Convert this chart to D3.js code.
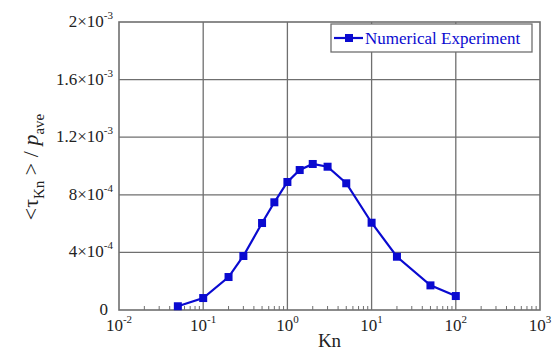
<!DOCTYPE html>
<html>
<head>
<meta charset="utf-8">
<script src="https://cdn.jsdelivr.net/npm/d3@7"></script>
<style>
  body { margin: 0; background: #fff; }
</style>
</head>
<body>
<div id="chart"></div>
<script>
// data
var knValues = [0.05, 0.1, 0.2, 0.3, 0.5, 0.7, 1, 1.4, 2, 3, 5, 10, 20, 50, 100];
var tauValues = [2.6e-5, 8.3e-5, 2.29e-4, 3.75e-4, 6.04e-4, 7.48e-4, 8.89e-4, 9.72e-4,
                 1.014e-3, 9.95e-4, 8.8e-4, 6.06e-4, 3.7e-4, 1.71e-4, 9.7e-5];
var xTicks = [1e-2, 1e-1, 1, 10, 100, 1000];
var xTickExp = ["-2", "-1", "0", "1", "2", "3"];
var yTicks = [0, 4e-4, 8e-4, 1.2e-3, 1.6e-3, 2e-3];
var yTickMant = ["0", "4\u00d710", "8\u00d710", "1.2\u00d710", "1.6\u00d710", "2\u00d710"];
var yTickExp = ["", "-4", "-4", "-3", "-3", "-3"];
var seriesName = "Numerical Experiment";

var margin = {top: 22, right: 18, bottom: 42, left: 119},
    width = 558 - margin.left - margin.right,
    height = 352 - margin.top - margin.bottom;

var svg = d3.select("#chart")
  .append("svg")
    .attr("width", 558)
    .attr("height", 352)
    .attr("font-family", "'Liberation Serif', 'Times New Roman', Times, serif")
  .append("g")
    .attr("transform", "translate(" + margin.left + "," + margin.top + ")");

var x = d3.scaleLog()
  .domain([1e-2, 1e3])
  .range([0, width]);

var y = d3.scaleLinear()
  .domain([0, 2e-3])
  .range([height, 0]);

var gridColor = "#6f6f6f";
var blue = "#0a0ad0";

// grid lines
svg.selectAll(".xgrid")
  .data(xTicks.slice(1, -1))
  .enter().append("line")
  .attr("x1", d => x(d)).attr("x2", d => x(d))
  .attr("y1", 0).attr("y2", height)
  .attr("stroke", gridColor).attr("stroke-width", 1.3);

svg.selectAll(".ygrid")
  .data(yTicks.slice(1, -1))
  .enter().append("line")
  .attr("x1", 0).attr("x2", width)
  .attr("y1", d => y(d)).attr("y2", d => y(d))
  .attr("stroke", gridColor).attr("stroke-width", 1.3);

// minor ticks on bottom axis
var minor = [];
xTicks.slice(0, -1).forEach(function(t) {
  for (var k = 2; k <= 9; k++) minor.push(t * k);
});
svg.selectAll(".minor")
  .data(minor)
  .enter().append("line")
  .attr("x1", d => x(d)).attr("x2", d => x(d))
  .attr("y1", height).attr("y2", height - 4)
  .attr("stroke", gridColor).attr("stroke-width", 1);

// frame
svg.append("rect")
  .attr("width", width).attr("height", height)
  .attr("fill", "none")
  .attr("stroke", gridColor).attr("stroke-width", 1.6);

// x tick labels
var xl = svg.selectAll(".xlab")
  .data(xTicks)
  .enter().append("text")
  .attr("x", d => x(d))
  .attr("y", height + 21)
  .attr("text-anchor", "middle")
  .attr("font-size", 17)
  .attr("fill", "#222");
xl.append("tspan").text("10");
xl.append("tspan")
  .attr("dy", -8)
  .attr("font-size", 11)
  .text((d, i) => xTickExp[i]);

// y tick labels
var yl = svg.selectAll(".ylab")
  .data(yTicks)
  .enter().append("text")
  .attr("x", (d, i) => yTickExp[i] ? -6 : -11)
  .attr("y", d => y(d) + 5)
  .attr("text-anchor", "end")
  .attr("font-size", 17)
  .attr("fill", "#222");
yl.append("tspan").text((d, i) => yTickMant[i]);
yl.filter((d, i) => yTickExp[i]).append("tspan")
  .attr("dy", -8)
  .attr("font-size", 11)
  .text(d => yTickExp[yTicks.indexOf(d)]);

// axis titles
svg.append("text")
  .attr("x", width / 2)
  .attr("y", height + 37)
  .attr("text-anchor", "middle")
  .attr("font-size", 19)
  .attr("fill", "#222")
  .text("Kn");

var yt = svg.append("text")
  .attr("transform", "translate(" + (-81) + "," + (167 - margin.top) + ") rotate(-90)")
  .attr("text-anchor", "middle")
  .attr("font-size", 22)
  .attr("fill", "#222");
yt.append("tspan").text("<\u03c4");
yt.append("tspan").attr("dy", 6).attr("font-size", 15).text("Kn");
yt.append("tspan").attr("dy", -6).text(" > / ");
yt.append("tspan").attr("font-style", "italic").text("p");
yt.append("tspan").attr("dy", 6).attr("font-size", 15).text("ave");

// line and markers
var pts = knValues.map((k, i) => ({k: k, v: tauValues[i]}));
svg.append("path")
  .datum(pts)
  .attr("fill", "none")
  .attr("stroke", blue)
  .attr("stroke-width", 2.2)
  .attr("d", d3.line().x(d => x(d.k)).y(d => y(d.v)));

svg.selectAll(".pt")
  .data(pts)
  .enter().append("rect")
  .attr("x", d => x(d.k) - 4)
  .attr("y", d => y(d.v) - 4)
  .attr("width", 8).attr("height", 8)
  .attr("fill", blue);

// legend
var lg = svg.append("g").attr("transform", "translate(" + (331 - margin.left) + "," + (24 - margin.top) + ")");
lg.append("rect")
  .attr("width", 201).attr("height", 28)
  .attr("fill", "#fff")
  .attr("stroke", gridColor).attr("stroke-width", 1.3);
lg.append("line")
  .attr("x1", 3).attr("x2", 32)
  .attr("y1", 14).attr("y2", 14)
  .attr("stroke", blue).attr("stroke-width", 2.2);
lg.append("rect")
  .attr("x", 14).attr("y", 10)
  .attr("width", 8).attr("height", 8)
  .attr("fill", blue);
lg.append("text")
  .attr("x", 34).attr("y", 20)
  .attr("font-size", 17)
  .attr("fill", blue)
  .text(seriesName);
</script>
</body>
</html>
